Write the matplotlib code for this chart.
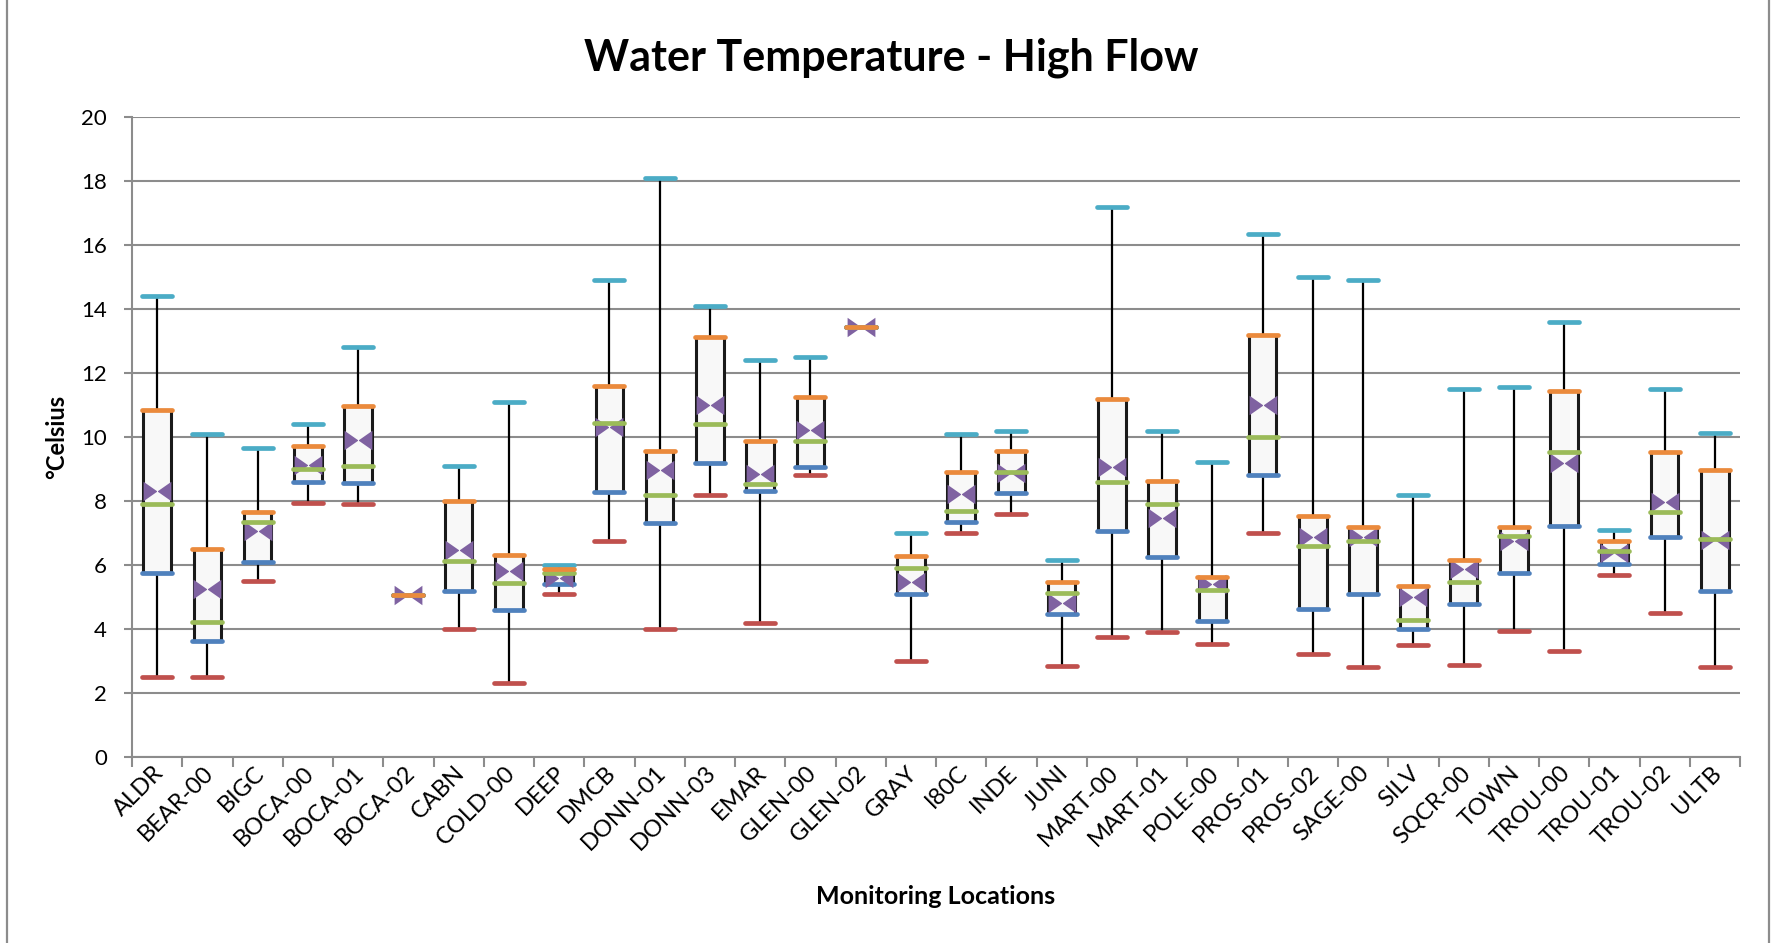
import matplotlib
matplotlib.use('Agg')
import matplotlib.pyplot as plt
import matplotlib.transforms as mtransforms
from matplotlib.path import Path
from matplotlib.patches import Rectangle
import numpy as np

plt.rcParams['font.family'] = ['Lato', 'DejaVu Sans']

# data (deg C)
locations = ['ALDR', 'BEAR-00', 'BIGC', 'BOCA-00', 'BOCA-01', 'BOCA-02', 'CABN', 'COLD-00',
             'DEEP', 'DMCB', 'DONN-01', 'DONN-03', 'EMAR', 'GLEN-00', 'GLEN-02', 'GRAY',
             'I80C', 'INDE', 'JUNI', 'MART-00', 'MART-01', 'POLE-00', 'PROS-01', 'PROS-02',
             'SAGE-00', 'SILV', 'SQCR-00', 'TOWN', 'TROU-00', 'TROU-01', 'TROU-02', 'ULTB']
v_max = [14.4, 10.1, 9.67, 10.4, 12.8, 5.05, 9.1, 11.1,
         6.0, 14.9, 18.1, 14.1, 12.4, 12.5, 13.43, 7.0,
         10.08, 10.2, 6.16, 17.2, 10.2, 9.23, 16.33, 15.0,
         14.9, 8.19, 11.49, 11.56, 13.6, 7.09, 11.49, 10.14]
v_q3 = [10.85, 6.5, 7.67, 9.71, 10.98, 5.05, 8.0, 6.3,
        5.87, 11.6, 9.55, 13.13, 9.86, 11.24, 13.43, 6.28,
        8.9, 9.55, 5.48, 11.2, 8.63, 5.62, 13.18, 7.53,
        7.18, 5.34, 6.16, 7.18, 11.44, 6.74, 9.54, 8.98]
v_median = [7.9, 4.23, 7.34, 9.0, 9.1, 5.05, 6.14, 5.43,
            5.75, 10.45, 8.2, 10.42, 8.52, 9.86, 13.43, 5.9,
            7.7, 8.9, 5.13, 8.6, 7.9, 5.22, 10.0, 6.6,
            6.75, 4.27, 5.48, 6.9, 9.53, 6.44, 7.67, 6.8]
v_mean = [8.3, 5.25, 7.07, 9.12, 9.9, 5.05, 6.47, 5.82,
          5.6, 10.3, 8.98, 11.0, 8.84, 10.22, 13.43, 5.47,
          8.23, 8.87, 4.8, 9.05, 7.46, 5.4, 11.0, 6.86,
          6.86, 5.01, 5.89, 6.75, 9.2, 6.37, 7.98, 6.79]
v_q1 = [5.75, 3.62, 6.08, 8.58, 8.55, 5.05, 5.2, 4.6,
        5.42, 8.27, 7.3, 9.2, 8.3, 9.07, 13.43, 5.08,
        7.35, 8.25, 4.48, 7.05, 6.25, 4.24, 8.8, 4.62,
        5.1, 3.99, 4.77, 5.75, 7.21, 6.03, 6.89, 5.19]
v_min = [2.5, 2.5, 5.5, 7.95, 7.9, 5.05, 4.0, 2.3,
         5.1, 6.75, 4.0, 8.2, 4.2, 8.8, 13.43, 3.0,
         7.0, 7.6, 2.83, 3.76, 3.9, 3.52, 7.0, 3.22,
         2.82, 3.49, 2.89, 3.95, 3.32, 5.68, 4.49, 2.82]

x = np.arange(len(locations))
q1 = np.array(v_q1)
q3 = np.array(v_q3)

fig = plt.figure(figsize=(17.77, 9.43), dpi=100)
ax = fig.add_axes([132/1777, 1-757/943, 1608/1777, 640/943])

# outer chart border (only the sides are inside the picture)
fig.patches.append(Rectangle((7/1777, -0.01), 1762/1777, 1.02, transform=fig.transFigure,
                             fill=False, edgecolor='#8c8c8c', linewidth=1.6))

# whiskers and boxes
ax.vlines(x, v_min, v_max, color='black', linewidth=1.6, zorder=2)
ax.bar(x, q3 - q1, bottom=q1, width=0.55, color='#f8f8f8', edgecolor='#1a1a1a',
       linewidth=2.2, zorder=3)

hw = 0.3
cap = dict(linewidth=3.4, capstyle='round')
ax.hlines(v_min, x - hw, x + hw, color='#c0504d', zorder=4, **cap)
ax.hlines(v_q1, x - hw, x + hw, color='#4f81bd', zorder=4, **cap)

# bow-tie marker for the mean
h = 0.7
bowtie = Path([(-1, -h), (0, 0), (-1, h), (-1, -h),
               (1, -h), (0, 0), (1, h), (1, -h)],
              [Path.MOVETO, Path.LINETO, Path.LINETO, Path.CLOSEPOLY,
               Path.MOVETO, Path.LINETO, Path.LINETO, Path.CLOSEPOLY])
ax.plot(x, v_mean, linestyle='none', marker=bowtie, markersize=20,
        color='#7f62a1', markeredgewidth=0, zorder=5)

ax.hlines(v_median, x - hw, x + hw, color='#9bbb59', zorder=6, **cap)
ax.hlines(v_max, x - hw, x + hw, color='#4bacc6', zorder=7, **cap)
ax.hlines(v_q3, x - hw, x + hw, color='#eb8a3c', zorder=8, **cap)

# axes styling
ax.set_xlim(-0.5, len(locations) - 0.5)
ax.set_ylim(0, 20)
ax.set_yticks(np.arange(0, 21, 2))
ax.yaxis.grid(True, color='#8c8c8c', linewidth=1.5, zorder=0)
ax.set_axisbelow(True)
for s in ['top', 'right']:
    ax.spines[s].set_visible(False)
for s in ['left', 'bottom']:
    ax.spines[s].set_color('#8c8c8c')
    ax.spines[s].set_linewidth(1.5)

ax.set_xticks(x)
ax.set_xticks(np.arange(-0.5, len(locations)), minor=True)
ax.tick_params(axis='x', which='major', length=0, pad=4)
ax.tick_params(axis='x', which='minor', length=7, width=1.5, color='#8c8c8c')
ax.tick_params(axis='y', length=6, width=1.5, color='#8c8c8c', pad=12, labelsize=16)
ax.set_xticklabels(locations, rotation=45, ha='right', rotation_mode='anchor',
                   va='center', fontsize=17)
offset = mtransforms.ScaledTranslation(0.03, -0.07, fig.dpi_scale_trans)
for lab in ax.get_xticklabels():
    lab.set_transform(lab.get_transform() + offset)

ax.set_ylabel('°Celsius', fontsize=17, fontweight='bold', va='center')
ax.yaxis.set_label_coords((57 - 132) / 1608, 0.5)
ax.set_xlabel('Monitoring Locations', fontsize=18, fontweight='bold', va='center')
ax.xaxis.set_label_coords(0.5, (757 - 896) / 640)
fig.text(891/1777, 1-58/943, 'Water Temperature - High Flow', ha='center', va='center',
         fontsize=31, fontweight='bold')

plt.savefig('out.png', dpi=100)
